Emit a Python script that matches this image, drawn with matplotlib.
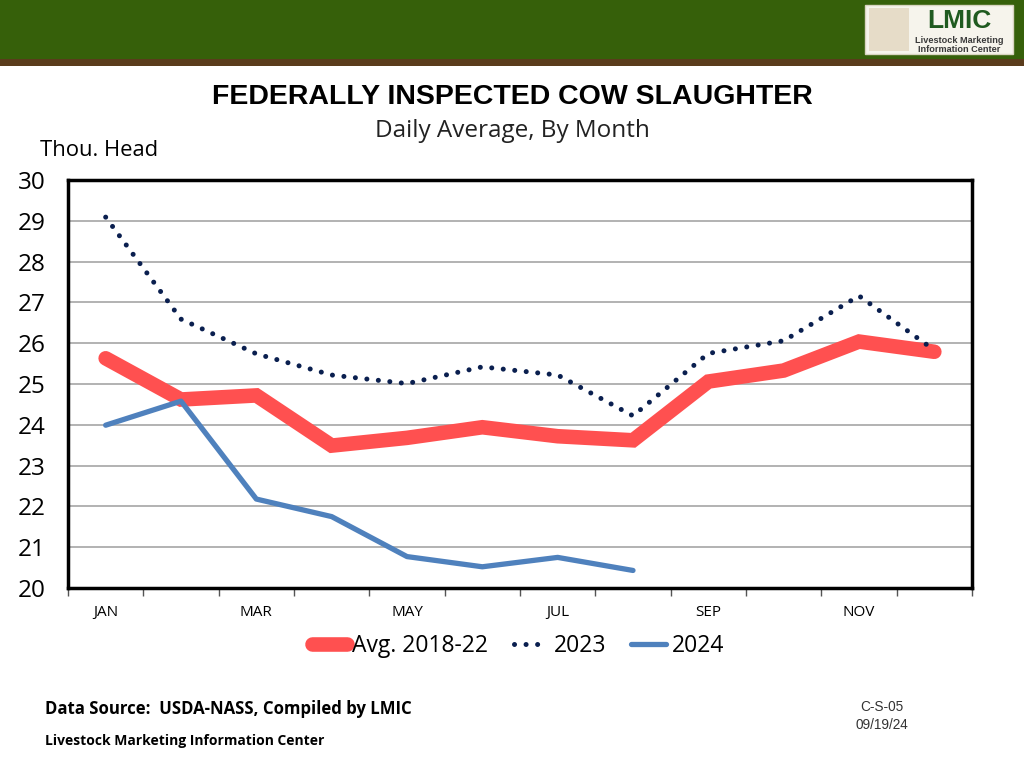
import matplotlib
matplotlib.use("Agg")
import matplotlib.pyplot as plt
from matplotlib.patches import Rectangle
from matplotlib.lines import Line2D

months = ["JAN", "FEB", "MAR", "APR", "MAY", "JUN", "JUL", "AUG", "SEP", "OCT", "NOV", "DEC"]
tick_labels = ["JAN", "", "MAR", "", "MAY", "", "JUL", "", "SEP", "", "NOV", ""]
avg_2018_22 = [25.63, 24.62, 24.72, 23.49, 23.68, 23.94, 23.72, 23.62, 25.06, 25.33, 26.04, 25.79]
y2023 = [29.09, 26.59, 25.74, 25.22, 25.01, 25.42, 25.22, 24.22, 25.75, 26.06, 27.16, 25.83]
y2024 = [23.99, 24.58, 22.18, 21.75, 20.77, 20.52, 20.75, 20.43]
y_ticks = [20, 21, 22, 23, 24, 25, 26, 27, 28, 29, 30]

RED = "#ff5050"
NAVY = "#0a1f4f"
BLUE = "#4f81bd"
BODY = ["Open Sans", "DejaVu Sans"]
DOTS = (0, (0.01, 2.3))

fig = plt.figure(figsize=(10.24, 7.68), dpi=100)
fig.patch.set_facecolor("white")

# header band
fig.patches.append(Rectangle((0, 1 - 59 / 768), 1, 59 / 768, transform=fig.transFigure,
                             facecolor="#36600a", edgecolor="none", zorder=0))
fig.patches.append(Rectangle((0, 1 - 66 / 768), 1, 7 / 768, transform=fig.transFigure,
                             facecolor="#5a3c1c", edgecolor="none", zorder=0))
# logo box
fig.patches.append(Rectangle((865 / 1024, 1 - 54 / 768), 148 / 1024, 49 / 768, transform=fig.transFigure,
                             facecolor="#f6f4ec", edgecolor="#d8d4c0", linewidth=1, zorder=1))
fig.patches.append(Rectangle((869 / 1024, 1 - 51 / 768), 40 / 1024, 43 / 768, transform=fig.transFigure,
                             facecolor="#d9c9ab", edgecolor="none", alpha=0.55, zorder=1.5))
fig.text(959 / 1024, 1 - 28 / 768, "LMIC", ha="center", va="baseline", fontsize=19, fontweight="bold",
         color="#1f5a1f", family="Liberation Sans", zorder=2)
fig.text(959 / 1024, 1 - 43 / 768, "Livestock Marketing", ha="center", va="baseline", fontsize=6.6,
         fontweight="bold", color="#3a3a3a", family="Liberation Sans", zorder=2)
fig.text(959 / 1024, 1 - 51.5 / 768, "Information Center", ha="center", va="baseline", fontsize=6.6,
         fontweight="bold", color="#3a3a3a", family="Liberation Sans", zorder=2)

# titles
fig.text(512 / 1024, 1 - 97 / 768, "FEDERALLY INSPECTED COW SLAUGHTER", ha="center", va="center",
         fontsize=20.5, fontweight="bold", family="Liberation Sans", color="black")
fig.text(512 / 1024, 1 - 131 / 768, "Daily Average, By Month", ha="center", va="center",
         fontsize=17.5, family=BODY, color="#222222")
fig.text(40 / 1024, 1 - 150 / 768, "Thou. Head", ha="left", va="center",
         fontsize=15.8, family=BODY, color="black")

ax = fig.add_axes([68 / 1024, 1 - 588 / 768, 904 / 1024, 408 / 768])
x = list(range(len(months)))
ax.plot(x, avg_2018_22, color=RED, linewidth=10.5, solid_capstyle="round", solid_joinstyle="miter", zorder=3)
ax.plot(x, y2023, color=NAVY, linewidth=3.6, linestyle=DOTS, dash_capstyle="round", zorder=4)
ax.plot(x[:len(y2024)], y2024, color=BLUE, linewidth=3.8, solid_capstyle="round", zorder=5)

ax.set_xlim(-0.5, 11.5)
ax.set_ylim(20, 30)
ax.set_yticks(y_ticks)
ax.set_yticklabels([str(v) for v in y_ticks], fontsize=17.5, family=BODY)
ax.yaxis.grid(True, color="#a6a6a6", linewidth=1.2)
ax.set_axisbelow(True)
ax.tick_params(axis="y", length=0, pad=16)

ax.set_xticks([i - 0.5 for i in range(13)], minor=False)
ax.set_xticklabels([])
ax.tick_params(axis="x", which="major", length=6, direction="out", color="#555555", width=1)
ax.set_xticks(x, minor=True)
ax.set_xticklabels(tick_labels, minor=True, fontsize=11, family=BODY)
ax.tick_params(axis="x", which="minor", length=0, pad=12)

for s in ax.spines.values():
    s.set_linewidth(2.5)
    s.set_color("black")

handles = [
    Line2D([], [], color=RED, linewidth=10.5, solid_capstyle="round"),
    Line2D([], [], color=NAVY, linewidth=3.6, linestyle=DOTS, dash_capstyle="round"),
    Line2D([], [], color=BLUE, linewidth=3.8, solid_capstyle="round"),
]
fig.legend(handles, ["Avg. 2018-22", "2023", "2024"], loc="center", bbox_to_anchor=(518 / 1024, 1 - 646 / 768),
           ncol=3, frameon=False, prop={"family": BODY, "size": 16.5}, handlelength=1.5,
           handletextpad=0.25, columnspacing=1.1)

fig.text(45 / 1024, 1 - 709 / 768, "Data Source:  USDA-NASS, Compiled by LMIC", ha="left", va="center",
         fontsize=12.1, fontweight="bold", family=BODY, color="black")
fig.text(45 / 1024, 1 - 741 / 768, "Livestock Marketing Information Center", ha="left", va="center",
         fontsize=10, fontweight="bold", family=BODY, color="black")
fig.text(882 / 1024, 1 - 707 / 768, "C-S-05", ha="center", va="center", fontsize=9.8,
         family="Liberation Sans", color="#333333")
fig.text(882 / 1024, 1 - 725 / 768, "09/19/24", ha="center", va="center", fontsize=9.8,
         family="Liberation Sans", color="#333333")

fig.savefig("out.png", dpi=100, facecolor="white")
